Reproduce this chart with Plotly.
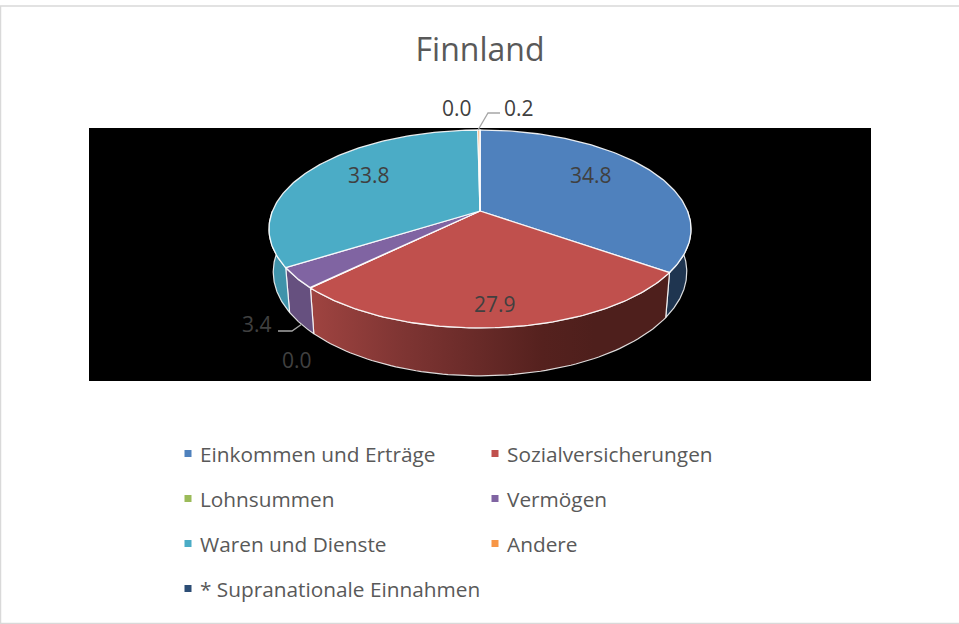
import numpy as np
import plotly.graph_objects as go

title = "Finnland"
categories = ["Einkommen und Erträge", "Sozialversicherungen", "Lohnsummen", "Vermögen",
              "Waren und Dienste", "Andere", "* Supranationale Einnahmen"]
values = [34.8, 27.9, 0.0, 3.4, 33.8, 0.2, 0.0]
top_colors = ["#4F81BD", "#C0504D", "#9BBB59", "#8064A2", "#4BACC6", "#F79646", "#2C4D75"]
wall_colors = ["#1F3550", "#7A302D", "#6A7F3B", "#66507F", "#3F93AA", "#B86F30", "#1F3550"]
label_text = ["34.8", "27.9", "0.0", "3.4", "33.8", "0.2", "0.0"]
label_x = [591, 495, 297, 257, 369, 519, 457]
label_y = [175, 304, 360, 324, 175, 108, 108]
label_color = ["#404040", "#404040", "#404040", "#404040", "#404040", "#404040", "#404040"]

FONT = "Open Sans"
W, H = 959, 624
CX, CY, A, B, K = 480.0, 211.0, 207.5, 95.7, 0.1818
BOT_SX, BOT_SY, BOT_CY = 0.98, 1.05, 253.0


def rim(theta, bottom=False):
    u, v = np.sin(theta), np.cos(theta)
    d = 1 + K * v
    if bottom:
        return CX + BOT_SX * A * u / d, BOT_CY - BOT_SY * B * v / d
    return CX + A * u / d, CY - B * v / d


fig = go.Figure()
total = sum(values)
edges = np.concatenate([[0], np.cumsum(values)]) / total * 2 * np.pi
VIS0, VIS1 = np.radians(90), np.radians(270)

# side walls
for i, name in enumerate(categories):
    a0, a1 = max(edges[i], VIS0), min(edges[i + 1], VIS1)
    if a1 <= a0:
        continue
    t = np.linspace(a0, a1, 80)
    xt, yt = rim(t)
    xb, yb = rim(t[::-1], True)
    kw = dict(fillcolor=wall_colors[i])
    if i == 1:
        kw = dict(fillgradient=dict(
            type="horizontal", start=314, stop=665,
            colorscale=[[0, "#9E4340"], [0.25, "#7F3533"], [0.47, "#682A28"],
                        [0.65, "#55211E"], [0.8, "#4E1F1C"], [1, "#4E1F1C"]]))
    fig.add_trace(go.Scatter(x=np.r_[xt, xb, xt[0]], y=np.r_[yt, yb, yt[0]], mode="lines", fill="toself",
                             line=dict(color="rgba(255,255,255,0.85)", width=1.2),
                             name=name, showlegend=False, hoverinfo="skip", **kw))

# top face
for i, name in enumerate(categories):
    t = np.linspace(edges[i], edges[i + 1], 120)
    xt, yt = rim(t)
    fig.add_trace(go.Scatter(x=np.r_[CX, xt, CX], y=np.r_[CY, yt, CY], mode="lines", fill="toself",
                             fillcolor=top_colors[i], line=dict(color="rgba(255,255,255,0.9)", width=1.3),
                             name=name, showlegend=False, text=label_text[i], hoverinfo="name+text"))

# leader lines
fig.add_trace(go.Scatter(x=[478, 488, 500], y=[130, 113, 113], mode="lines",
                         line=dict(color="#A6A6A6", width=1.3), showlegend=False, hoverinfo="skip"))
fig.add_trace(go.Scatter(x=[278, 292, 302], y=[331, 331, 324], mode="lines",
                         line=dict(color="#A6A6A6", width=1.3), showlegend=False, hoverinfo="skip"))

# legend entries: one legend per row
rows = ["legend", "legend", "legend2", "legend2", "legend3", "legend3", "legend4"]
for i, name in enumerate(categories):
    fig.add_trace(go.Scatter(x=[None], y=[None], mode="markers", name=name, legend=rows[i],
                             marker=dict(symbol="square", size=7, color=top_colors[i], angle=90, standoff=8),
                             showlegend=True))

annotations = [dict(x=x, y=y, text=s, showarrow=False, xref="x", yref="y", xanchor="center", yanchor="middle",
                    font=dict(family=FONT, size=21, color=c))
               for x, y, s, c in zip(label_x, label_y, label_text, label_color)]


def legend_row(py, entry=269):
    return dict(orientation="h", x=167 / W, xanchor="left", y=1 - py / H, yanchor="middle",
                entrywidth=entry, entrywidthmode="pixels", indentation=-7, itemclick=False, itemdoubleclick=False,
                bgcolor="rgba(0,0,0,0)", font=dict(family=FONT, size=20.8, color="#595959"), traceorder="normal")


fig.update_layout(
    width=W, height=H, autosize=False, margin=dict(l=0, r=0, t=0, b=0),
    paper_bgcolor="white", plot_bgcolor="white",
    title=dict(text=title, x=480 / W, xanchor="center", y=1 - 50 / H, yanchor="middle",
               font=dict(family=FONT, size=32, color="#595959")),
    xaxis=dict(range=[0, W], visible=False, fixedrange=True),
    yaxis=dict(range=[H, 0], visible=False, fixedrange=True),
    shapes=[
        dict(type="rect", x0=0.5, x1=W + 5, y0=6, y1=623.5, xref="x", yref="y", layer="below",
             line=dict(color="#D9D9D9", width=1.5), fillcolor="white"),
        dict(type="rect", x0=89, x1=871, y0=128, y1=381, xref="x", yref="y", layer="below",
             line=dict(width=0), fillcolor="black"),
    ],
    annotations=annotations,
    legend=legend_row(454), legend2=legend_row(499), legend3=legend_row(544), legend4=legend_row(589, 320),
)

fig.write_html("out.html", config=dict(displayModeBar=False),
               post_script="document.documentElement.style.margin='0';document.body.style.margin='0';document.body.style.overflow='hidden';")
